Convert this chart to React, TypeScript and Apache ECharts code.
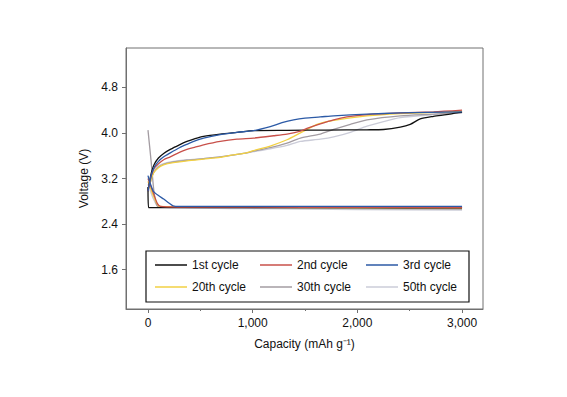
import React, { useEffect, useRef } from "react";
import * as echarts from "echarts";

const cycleNames = ["1st cycle", "2nd cycle", "3rd cycle", "20th cycle", "30th cycle", "50th cycle"];
const cycleColors = ["#111111", "#c8504a", "#2c5aa6", "#f2d043", "#a39ca2", "#cbccd8"];

const xTickLabels = [0, 1000, 2000, 3000];
const xMinorTicks = [500, 1500, 2500];
const yTickLabels = [1.6, 2.4, 3.2, 4.0, 4.8];

// Discharge curves [capacity mAh/g, voltage V]
const discharge1 = [[0, 3.05], [5, 2.69], [500, 2.69], [1000, 2.69], [2000, 2.688], [3000, 2.685]];
const discharge2 = [[0, 3.2], [30, 3.05], [60, 2.9], [90, 2.76], [120, 2.71], [300, 2.7], [1500, 2.695], [3000, 2.69]];
const discharge3 = [[0, 3.25], [20, 3.12], [50, 2.98], [100, 2.9], [150, 2.84], [200, 2.77], [240, 2.72], [300, 2.71], [1500, 2.71], [3000, 2.71]];
const discharge20 = [[0, 3.15], [40, 2.95], [80, 2.78], [110, 2.71], [300, 2.705], [1500, 2.69], [3000, 2.68]];
const discharge30 = [[0, 4.05], [30, 3.5], [55, 3.0], [75, 2.78], [100, 2.7], [300, 2.695], [1500, 2.68], [3000, 2.665]];
const discharge50 = [[0, 3.1], [50, 2.85], [90, 2.72], [200, 2.69], [1000, 2.67], [2000, 2.655], [3000, 2.645]];

// Charge curves
const charge1 = [[0, 2.98], [15, 3.15], [35, 3.32], [60, 3.45], [100, 3.56], [150, 3.64], [213, 3.71], [300, 3.79], [372, 3.85], [450, 3.9], [531, 3.94], [690, 3.98], [850, 4.01], [1009, 4.04], [1328, 4.045], [1700, 4.05], [2092, 4.055], [2250, 4.06], [2410, 4.1], [2505, 4.15], [2600, 4.245], [2728, 4.29], [2850, 4.32], [2951, 4.35], [3000, 4.36]];
const charge2 = [[0, 2.98], [15, 3.12], [35, 3.27], [60, 3.38], [100, 3.46], [150, 3.53], [213, 3.58], [300, 3.66], [372, 3.71], [450, 3.75], [531, 3.79], [690, 3.85], [850, 3.89], [1009, 3.91], [1200, 3.95], [1328, 3.98], [1456, 4.03], [1518, 4.08], [1646, 4.16], [1773, 4.23], [1900, 4.28], [2092, 4.32], [2410, 4.35], [2728, 4.37], [3000, 4.4]];
const charge3 = [[0, 2.98], [15, 3.12], [35, 3.28], [60, 3.4], [100, 3.5], [150, 3.58], [213, 3.65], [300, 3.74], [372, 3.8], [450, 3.86], [531, 3.91], [690, 3.97], [850, 4.01], [1009, 4.04], [1168, 4.11], [1280, 4.18], [1391, 4.23], [1500, 4.26], [1646, 4.28], [1773, 4.3], [2092, 4.33], [2410, 4.35], [3000, 4.37]];
const charge20 = [[0, 2.98], [20, 3.12], [54, 3.3], [100, 3.39], [149, 3.44], [213, 3.47], [372, 3.51], [531, 3.54], [690, 3.57], [800, 3.61], [913, 3.64], [1009, 3.69], [1168, 3.77], [1328, 3.88], [1456, 4.0], [1520, 4.06], [1614, 4.15], [1773, 4.22], [2092, 4.3], [2410, 4.34], [2728, 4.36], [3000, 4.38]];
const charge30 = [[0, 2.98], [20, 3.12], [54, 3.3], [100, 3.4], [149, 3.45], [213, 3.48], [372, 3.52], [531, 3.55], [690, 3.58], [913, 3.64], [1009, 3.68], [1168, 3.74], [1328, 3.82], [1456, 3.91], [1646, 3.98], [1773, 4.06], [1933, 4.15], [2092, 4.23], [2410, 4.3], [2728, 4.33], [3000, 4.36]];
const charge50 = [[0, 3.0], [20, 3.15], [54, 3.32], [100, 3.42], [149, 3.46], [213, 3.49], [372, 3.53], [531, 3.55], [690, 3.58], [913, 3.64], [1009, 3.67], [1168, 3.72], [1328, 3.78], [1456, 3.85], [1646, 3.89], [1773, 3.93], [1933, 4.01], [2092, 4.12], [2250, 4.2], [2410, 4.27], [2728, 4.32], [3000, 4.35]];

const dischargeData = [discharge1, discharge2, discharge3, discharge20, discharge30, discharge50];
const chargeData = [charge1, charge2, charge3, charge20, charge30, charge50];

const FONT = "'Liberation Sans', Arial, Helvetica, sans-serif";

export default function App() {
  const ref = useRef<HTMLDivElement>(null);
  useEffect(() => {
    if (!ref.current) return;
    const chart = echarts.init(ref.current, null, { renderer: "svg" });
    const drawOrder = [5, 4, 3, 0, 1, 2];
    const series: any[] = [];
    drawOrder.forEach((i) => {
      const common = {
        name: cycleNames[i],
        type: "line",
        symbol: "none",
        color: cycleColors[i],
        lineStyle: { color: cycleColors[i], width: 1.3 },
        xAxisIndex: 0,
        z: 2,
      };
      series.push({ ...common, data: dischargeData[i], smooth: 0.2 });
      series.push({ ...common, data: chargeData[i], smooth: 0.25 });
    });
    const legendCols = [155, 260, 366];
    const legendRows = [258, 280];
    const legends = cycleNames.map((n, i) => ({
      data: [n],
      left: legendCols[i % 3],
      top: legendRows[Math.floor(i / 3)],
      icon: "rect",
      itemWidth: 32,
      itemHeight: 1.5,
      itemGap: 0,
      padding: 0,
      selectedMode: false,
      textStyle: { fontSize: 12, color: "#111", fontFamily: FONT, lineHeight: 14 },
      z: 10,
    }));
    const axisColor = "#707070";
    chart.setOption({
      animation: false,
      backgroundColor: "#fff",
      grid: {
        left: 126,
        right: 84,
        top: 48,
        bottom: 88,
        show: true,
        borderColor: axisColor,
        borderWidth: 1,
      },
      legend: legends,
      graphic: [
        {
          type: "rect",
          shape: { x: 146, y: 251, width: 323, height: 51 },
          style: { fill: "#fff", stroke: "#111", lineWidth: 1.2 },
          z: 5,
        },
      ],
      xAxis: [
        {
          type: "value",
          min: -210,
          max: 3200,
          name: "Capacity (mAh g⁻¹)",
          nameLocation: "middle",
          nameGap: 29,
          nameTextStyle: { fontSize: 12, color: "#111", fontFamily: FONT },
          axisLine: { show: true, onZero: false, lineStyle: { color: axisColor } },
          axisTick: { show: true, length: 4, lineStyle: { color: axisColor }, customValues: xTickLabels },
          axisLabel: {
            fontSize: 12,
            color: "#111",
            fontFamily: FONT,
            margin: 8,
            customValues: xTickLabels,
            formatter: (v: number) => v.toLocaleString("en-US"),
          },
          splitLine: { show: false },
        },
        {
          type: "value",
          position: "bottom",
          min: -210,
          max: 3200,
          axisLine: { show: false, onZero: false },
          axisTick: { show: true, length: 2, lineStyle: { color: axisColor }, customValues: xMinorTicks },
          axisLabel: { show: false, customValues: xMinorTicks },
          splitLine: { show: false },
        },
      ],
      yAxis: {
        type: "value",
        min: 0.91,
        max: 5.49,
        name: "Voltage (V)",
        nameLocation: "middle",
        nameGap: 30,
        nameRotate: 90,
        nameTextStyle: { fontSize: 12, color: "#111", fontFamily: FONT },
        axisLine: { show: true, onZero: false, lineStyle: { color: axisColor } },
        axisTick: { show: true, length: 4, lineStyle: { color: axisColor }, customValues: yTickLabels },
        axisLabel: {
          fontSize: 12,
          color: "#111",
          fontFamily: FONT,
          margin: 8,
          customValues: yTickLabels,
          formatter: (v: number) => v.toFixed(1),
        },
        splitLine: { show: false },
      },
      series,
    });
    return () => chart.dispose();
  }, []);
  return (
    <div
      ref={ref}
      style={{ position: "fixed", left: 0, top: 0, width: 567, height: 397, background: "#fff" }}
    />
  );
}
